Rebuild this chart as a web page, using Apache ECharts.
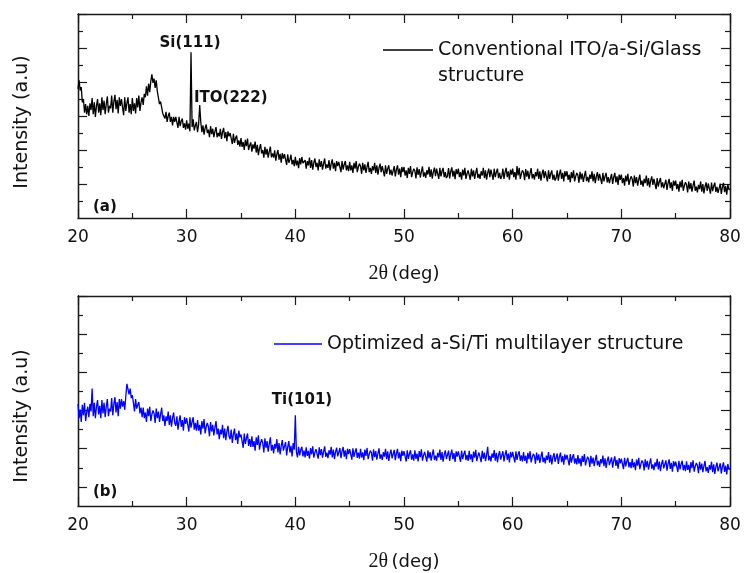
<!DOCTYPE html>
<html>
<head>
<meta charset="utf-8">
<script src="https://cdn.jsdelivr.net/npm/echarts@6/dist/echarts.min.js"></script>
<style>
html,body{margin:0;padding:0;background:#fff;}
#chart{width:749px;height:573px;}
</style>
</head>
<body>
<div id="chart"></div>
<script>
// 2θ scan grid (deg)
const twoThetaStart = 20;
const twoThetaStep = 0.1;
const xTicks = [20, 30, 40, 50, 60, 70, 80];

// (a) Conventional ITO/a-Si/Glass structure, intensity (a.u.), one row per degree
const seriesA = [
7.6,8.1,7.5,7.7,6.8,7.0,6.2,6.7,6.1,6.6,
6.0,6.75,6.35,7.05,6.1,6.8,5.95,6.6,7.0,6.2,
6.75,6.05,7.1,6.35,6.9,6.1,6.7,7.15,6.2,6.6,
6.45,7.2,6.2,6.85,7.25,6.4,6.95,6.15,7.1,6.6,
7.0,6.5,6.05,7.1,6.3,6.75,7.1,6.2,6.7,6.1,
7.05,6.3,6.75,6.15,7.05,6.5,7.2,6.3,6.8,7.1,
6.65,7.3,7.1,7.75,7.2,7.9,7.4,8.05,8.45,7.95,
8.2,7.65,8.1,7.45,7.5,6.7,6.85,6.95,6.15,6.2,
5.85,6.25,5.65,6.0,6.2,5.65,5.95,5.45,5.95,5.65,
5.95,5.63,5.3,5.95,5.4,5.7,5.85,5.3,5.57,5.2,
5.75,5.25,5.55,5.1,9.75,5.35,5.8,5.15,5.45,5.65,
5.05,5.5,6.65,5.65,5.05,5.45,4.9,5.3,5.5,5.0,
5.2,4.75,5.4,4.93,5.25,4.75,5.1,5.35,4.75,5.0,
4.8,5.25,4.65,5.05,5.3,4.7,5.05,4.52,5.1,4.8,
5.0,4.67,4.35,4.95,4.42,4.7,4.85,4.3,4.57,4.2,
4.7,4.18,4.47,4.0,4.6,4.23,4.67,4.0,4.27,4.45,
3.9,4.33,4.08,4.5,3.85,4.3,3.7,4.1,4.35,3.8,
4.0,3.55,4.18,3.73,4.07,3.55,3.9,4.2,3.57,3.8,
3.55,3.98,3.37,3.76,4.0,3.43,3.77,3.25,3.82,3.5,
3.75,3.43,3.12,3.75,3.25,3.43,3.72,3.15,3.42,3.05,
3.6,3.1,3.38,2.93,3.52,3.15,3.59,3.23,3.22,3.4,
2.9,3.35,3.1,3.55,2.95,3.4,2.85,3.25,3.5,3.0,
3.25,2.8,3.45,3.0,3.35,2.85,3.2,3.5,2.9,3.15,
2.95,3.4,2.8,3.2,3.45,2.9,3.25,2.75,3.35,3.05,
3.3,3.0,2.7,3.35,2.85,3.15,3.35,2.8,3.1,2.75,
3.3,2.8,3.1,2.65,3.25,2.9,3.35,2.7,3.0,3.2,
3.05,2.6,3.25,2.8,3.15,2.65,3.0,3.3,2.7,2.95,
2.6,3.05,2.8,3.25,2.65,3.1,2.55,2.95,3.2,2.7,
3.05,2.75,2.45,3.1,2.6,2.9,3.1,2.55,2.85,2.5,
2.6,3.05,2.45,2.85,3.1,2.55,2.9,2.4,3.0,2.7,
3.0,2.5,2.8,2.35,2.95,2.6,3.05,2.4,2.7,2.9,
2.78,2.33,2.98,2.53,2.88,2.38,2.73,3.03,2.43,2.68,
2.36,2.81,2.56,3.01,2.41,2.86,2.31,2.71,2.96,2.46,
2.9,2.6,2.3,2.95,2.45,2.75,2.95,2.4,2.7,2.35,
2.48,2.93,2.33,2.73,2.98,2.43,2.78,2.28,2.88,2.58,
2.9,2.4,2.7,2.25,2.85,2.5,2.95,2.3,2.6,2.8,
2.7,2.25,2.9,2.45,2.8,2.3,2.65,2.95,2.35,2.6,
2.3,2.75,2.5,2.95,2.35,2.8,2.25,2.65,2.9,2.4,
2.85,2.55,2.25,2.9,2.4,2.7,2.9,2.35,2.65,2.3,
2.45,2.9,2.3,2.7,2.95,2.4,2.75,2.25,2.85,2.55,
2.9,2.4,2.7,2.25,3.05,2.5,2.95,2.3,2.6,2.8,
2.68,2.23,2.88,2.43,2.78,2.28,2.63,2.93,2.33,2.58,
2.25,2.7,2.45,2.9,2.3,2.75,2.2,2.6,2.85,2.35,
2.75,2.45,2.15,2.8,2.3,2.6,2.8,2.25,2.55,2.2,
2.35,2.8,2.2,2.6,2.85,2.3,2.65,2.15,2.75,2.45,
2.75,2.25,2.55,2.1,2.7,2.35,2.8,2.15,2.45,2.65,
2.52,2.07,2.72,2.27,2.62,2.12,2.47,2.77,2.17,2.42,
2.1,2.55,2.3,2.75,2.15,2.6,2.05,2.45,2.7,2.2,
2.6,2.3,2.0,2.65,2.15,2.45,2.65,2.1,2.4,2.05,
2.15,2.6,2.0,2.4,2.65,2.1,2.45,1.95,2.55,2.25,
2.55,2.05,2.35,1.9,2.5,2.15,2.6,1.95,2.25,2.45,
2.3,1.85,2.5,2.05,2.4,1.9,2.25,2.55,1.95,2.2,
1.85,2.3,2.05,2.5,1.9,2.35,1.8,2.2,2.45,1.95,
2.3,2.0,1.7,2.35,1.85,2.15,2.35,1.8,2.1,1.75,
1.8,2.25,1.65,2.05,2.3,1.75,2.1,1.6,2.2,1.9,
2.2,1.7,2.0,1.55,2.15,1.8,2.25,1.6,1.9,2.1,
1.95,1.5,2.15,1.7,2.05,1.55,1.9,2.2,1.6,1.85,
1.5,1.95,1.7,2.15,1.55,2.0,1.45,1.85,2.1,1.6,
2.03,1.73,1.43,2.08,1.58,1.88,2.08,1.53,1.83,1.48,
1.57,2.02,1.42,1.82,2.07,1.52,1.87,1.37,1.97,1.67,
1.7
];

// (b) Optimized a-Si/Ti multilayer structure, intensity (a.u.), one row per degree
const seriesB = [
5.35,4.6,5.05,4.4,5.3,4.75,5.4,4.45,4.9,5.2,
4.65,5.35,4.95,6.15,4.7,5.4,4.6,5.2,5.55,4.8,
5.25,4.6,5.55,4.85,5.4,4.65,5.2,5.6,4.7,5.1,
4.95,5.65,4.75,5.35,5.7,4.9,5.45,4.7,5.6,5.1,
5.6,5.2,5.5,5.05,5.75,6.4,6.3,5.85,6.15,5.65,
5.8,5.4,4.95,5.6,5.1,5.3,5.45,4.85,5.15,4.65,
5.15,4.6,4.9,4.4,5.1,4.7,5.2,4.45,4.8,5.0,
4.85,4.35,5.1,4.6,4.95,4.4,4.8,5.15,4.45,4.75,
4.2,4.7,4.45,4.95,4.25,4.75,4.15,4.6,4.9,4.35,
4.2,4.7,4.0,4.45,4.75,4.15,4.5,3.95,4.65,4.3,
4.6,4.25,3.9,4.65,4.1,4.4,4.65,4.0,4.35,3.95,
4.5,3.95,4.25,3.75,4.45,4.05,4.55,3.8,4.15,4.35,
4.15,3.65,4.4,3.9,4.25,3.7,4.1,4.45,3.75,4.05,
3.5,4.0,3.75,4.25,3.55,4.05,3.45,3.9,4.2,3.65,
3.5,4.0,3.3,3.75,4.05,3.45,3.8,3.25,3.95,3.6,
3.75,3.4,3.05,3.8,3.25,3.55,3.8,3.15,3.5,3.1,
3.65,3.1,3.4,2.9,3.6,3.2,3.7,2.95,3.3,3.5,
3.3,2.8,3.55,3.05,3.4,2.85,3.25,3.6,2.9,3.2,
2.75,3.25,3.0,3.5,2.8,3.3,2.7,3.15,3.45,2.9,
2.85,3.35,2.65,3.1,3.4,2.8,3.15,2.6,3.3,2.95,
4.75,2.8,2.55,3.1,2.65,2.95,3.1,2.6,2.9,2.55,
3.07,2.62,2.89,2.48,3.03,2.71,3.12,2.53,2.8,2.98,
2.89,2.48,3.07,2.66,2.98,2.53,2.85,3.12,2.57,2.8,
2.51,2.92,2.69,3.1,2.55,2.96,2.46,2.83,3.05,2.6,
2.63,3.04,2.5,2.86,3.09,2.59,2.91,2.45,3.0,2.72,
2.98,2.7,2.43,3.02,2.57,2.84,3.02,2.52,2.8,2.48,
2.99,2.54,2.81,2.4,2.95,2.63,3.04,2.45,2.72,2.9,
2.79,2.38,2.97,2.56,2.88,2.43,2.75,3.02,2.47,2.7,
2.41,2.82,2.59,3.0,2.45,2.86,2.36,2.73,2.95,2.5,
2.53,2.94,2.4,2.76,2.99,2.49,2.81,2.35,2.9,2.62,
2.88,2.6,2.33,2.92,2.47,2.74,2.92,2.42,2.7,2.38,
2.92,2.47,2.74,2.33,2.88,2.56,2.97,2.38,2.65,2.83,
2.73,2.32,2.91,2.5,2.82,2.37,2.69,2.96,2.41,2.64,
2.37,2.78,2.55,2.96,2.41,2.82,2.32,2.69,2.91,2.46,
2.49,2.9,2.36,2.72,2.95,2.45,2.77,2.31,2.86,2.58,
2.86,2.58,2.31,2.9,2.45,2.72,2.9,2.4,2.68,2.36,
2.89,2.44,2.71,2.3,2.85,2.53,2.94,2.35,2.62,2.8,
2.71,2.3,2.89,2.48,2.8,2.35,2.67,3.1,2.39,2.62,
2.34,2.75,2.52,2.93,2.38,2.79,2.29,2.66,2.88,2.43,
2.46,2.87,2.33,2.69,2.92,2.42,2.74,2.28,2.83,2.55,
2.83,2.55,2.28,2.87,2.42,2.69,2.87,2.37,2.65,2.33,
2.82,2.37,2.64,2.23,2.78,2.46,2.87,2.28,2.55,2.73,
2.62,2.21,2.8,2.39,2.71,2.26,2.58,2.85,2.3,2.53,
2.23,2.64,2.41,2.82,2.27,2.68,2.18,2.55,2.77,2.32,
2.34,2.75,2.21,2.57,2.8,2.3,2.62,2.16,2.71,2.43,
2.68,2.4,2.13,2.72,2.27,2.54,2.72,2.22,2.5,2.18,
2.67,2.22,2.49,2.08,2.63,2.31,2.72,2.13,2.4,2.58,
2.45,2.04,2.63,2.22,2.54,2.09,2.41,2.68,2.13,2.36,
2.05,2.46,2.23,2.64,2.09,2.5,2.0,2.37,2.59,2.14,
2.14,2.55,2.01,2.37,2.6,2.1,2.42,1.96,2.51,2.23,
2.48,2.2,1.93,2.52,2.07,2.34,2.52,2.02,2.3,1.98,
2.47,2.02,2.29,1.88,2.43,2.11,2.52,1.93,2.2,2.38,
2.27,1.86,2.45,2.04,2.36,1.91,2.23,2.5,1.95,2.18,
1.88,2.29,2.06,2.47,1.92,2.33,1.83,2.2,2.42,1.97,
1.98,2.39,1.85,2.21,2.44,1.94,2.26,1.8,2.35,2.07,
2.33,2.05,1.78,2.37,1.92,2.19,2.37,1.87,2.15,1.83,
2.34,1.89,2.16,1.75,2.3,1.98,2.39,1.8,2.07,2.25,
2.13,1.72,2.31,1.9,2.22,1.77,2.09,2.36,1.81,2.04,
1.73,2.14,1.91,2.32,1.77,2.18,1.68,2.05,2.27,1.82,
1.83,2.24,1.7,2.06,2.29,1.79,2.11,1.65,2.2,1.92,
1.95
];

const nameA = 'Conventional ITO/a-Si/Glass structure';
const nameB = 'Optimized a-Si/Ti multilayer structure';
const peakLabels = ['Si(111)', 'ITO(222)', 'Ti(101)'];
const panelLabels = ['(a)', '(b)'];
const yTitle = 'Intensity (a.u)';

function pairs(vals) {
  return vals.map((v, i) => [+(twoThetaStart + i * twoThetaStep).toFixed(2), v]);
}

const AX = '#1a1a1a';
const sans = '"DejaVu Sans", sans-serif';
const serif = '"Liberation Serif", "DejaVu Serif", serif';

function xAx(grid, pos, showLabel) {
  return {
    type: 'value', gridIndex: grid, position: pos, min: xTicks[0], max: xTicks[xTicks.length - 1], interval: 10,
    axisLine: { show: true, onZero: false, lineStyle: { color: AX, width: 1.3 } },
    axisTick: { show: true, inside: true, length: 9, lineStyle: { color: AX, width: 1.2 } },
    minorTick: { show: true, splitNumber: 2, length: 5, lineStyle: { color: AX, width: 1.2 } },
    splitLine: { show: false },
    axisLabel: { show: showLabel, color: '#111', fontFamily: sans, fontSize: 17, margin: 11 },
    name: showLabel ? '{s|2θ} {t|(deg)}' : '',
    nameLocation: 'middle', nameGap: 46,
    nameTextStyle: { rich: {
      s: { fontFamily: serif, fontSize: 20, color: '#111' },
      t: { fontFamily: sans, fontSize: 18, color: '#111' } } }
  };
}
function yAx(grid, pos, max, major, minor) {
  return {
    type: 'value', gridIndex: grid, position: pos, min: 0, max: max,
    axisLine: { show: true, onZero: false, lineStyle: { color: AX, width: 1.3 } },
    axisTick: { show: true, inside: true, length: major ? 9 : 5, customValues: major || minor,
      lineStyle: { color: AX, width: 1.2 } },
    splitLine: { show: false }, axisLabel: { show: false }
  };
}

const topMajor = [2, 4, 6, 8, 10, 12];
const topMinor = [1, 3, 5, 7, 9, 11];
const botMajor = [1, 3, 5, 7, 9, 11];
const botMinor = [2, 4, 6, 8, 10];

const chart = echarts.init(document.getElementById('chart'), null, { renderer: 'canvas' });
chart.setOption({
  animation: false,
  backgroundColor: '#fff',
  grid: [
    { left: 78, right: 19, top: 14, height: 204 },
    { left: 78, right: 19, top: 296, height: 212 }
  ],
  xAxis: [xAx(0, 'bottom', true), xAx(0, 'top', false), xAx(1, 'bottom', true), xAx(1, 'top', false)],
  yAxis: [
    yAx(0, 'left', 12, topMajor, null), yAx(0, 'left', 12, null, topMinor),
    yAx(0, 'right', 12, topMajor, null), yAx(0, 'right', 12, null, topMinor),
    yAx(1, 'left', 11, botMajor, null), yAx(1, 'left', 11, null, botMinor),
    yAx(1, 'right', 11, botMajor, null), yAx(1, 'right', 11, null, botMinor)
  ],
  legend: [
    { data: [nameA], left: 383, top: 11, padding: 0, itemWidth: 50, itemHeight: 1.5, icon: 'rect',
      selectedMode: false,
      formatter: () => ' \nConventional ITO/a-Si/Glass\nstructure',
      textStyle: { fontFamily: sans, fontSize: 19, color: '#111', lineHeight: 26 } },
    { data: [nameB], left: 274, top: 333, padding: 0, itemWidth: 48, itemHeight: 1.5, icon: 'rect',
      selectedMode: false,
      textStyle: { fontFamily: sans, fontSize: 19, color: '#111', lineHeight: 22 } }
  ],
  series: [
    { name: nameA, type: 'line', xAxisIndex: 0, yAxisIndex: 0, data: pairs(seriesA),
      showSymbol: false, symbol: 'none', lineStyle: { color: '#000', width: 1.3 }, itemStyle: { color: '#000' } },
    { name: nameB, type: 'line', xAxisIndex: 2, yAxisIndex: 4, data: pairs(seriesB),
      showSymbol: false, symbol: 'none', lineStyle: { color: '#0000ff', width: 1.3 }, itemStyle: { color: '#0000ff' } }
  ],
  graphic: [
    { type: 'text', x: 22, y: 122, rotation: Math.PI / 2,
      style: { text: yTitle, font: '19px ' + sans, fill: '#111', align: 'center', verticalAlign: 'middle' } },
    { type: 'text', x: 22, y: 416, rotation: Math.PI / 2,
      style: { text: yTitle, font: '19px ' + sans, fill: '#111', align: 'center', verticalAlign: 'middle' } },
    { type: 'text', x: 190, y: 43, style: { text: peakLabels[0], font: 'bold 15px ' + sans, fill: '#111', align: 'center', verticalAlign: 'middle' } },
    { type: 'text', x: 194, y: 98, style: { text: peakLabels[1], font: 'bold 15px ' + sans, fill: '#111', align: 'left', verticalAlign: 'middle' } },
    { type: 'text', x: 302, y: 400, style: { text: peakLabels[2], font: 'bold 15px ' + sans, fill: '#111', align: 'center', verticalAlign: 'middle' } },
    { type: 'text', x: 93, y: 207, style: { text: panelLabels[0], font: 'bold 15px ' + sans, fill: '#111', align: 'left', verticalAlign: 'middle' } },
    { type: 'text', x: 93, y: 492, style: { text: panelLabels[1], font: 'bold 15px ' + sans, fill: '#111', align: 'left', verticalAlign: 'middle' } }
  ]
});
</script>
</body>
</html>
